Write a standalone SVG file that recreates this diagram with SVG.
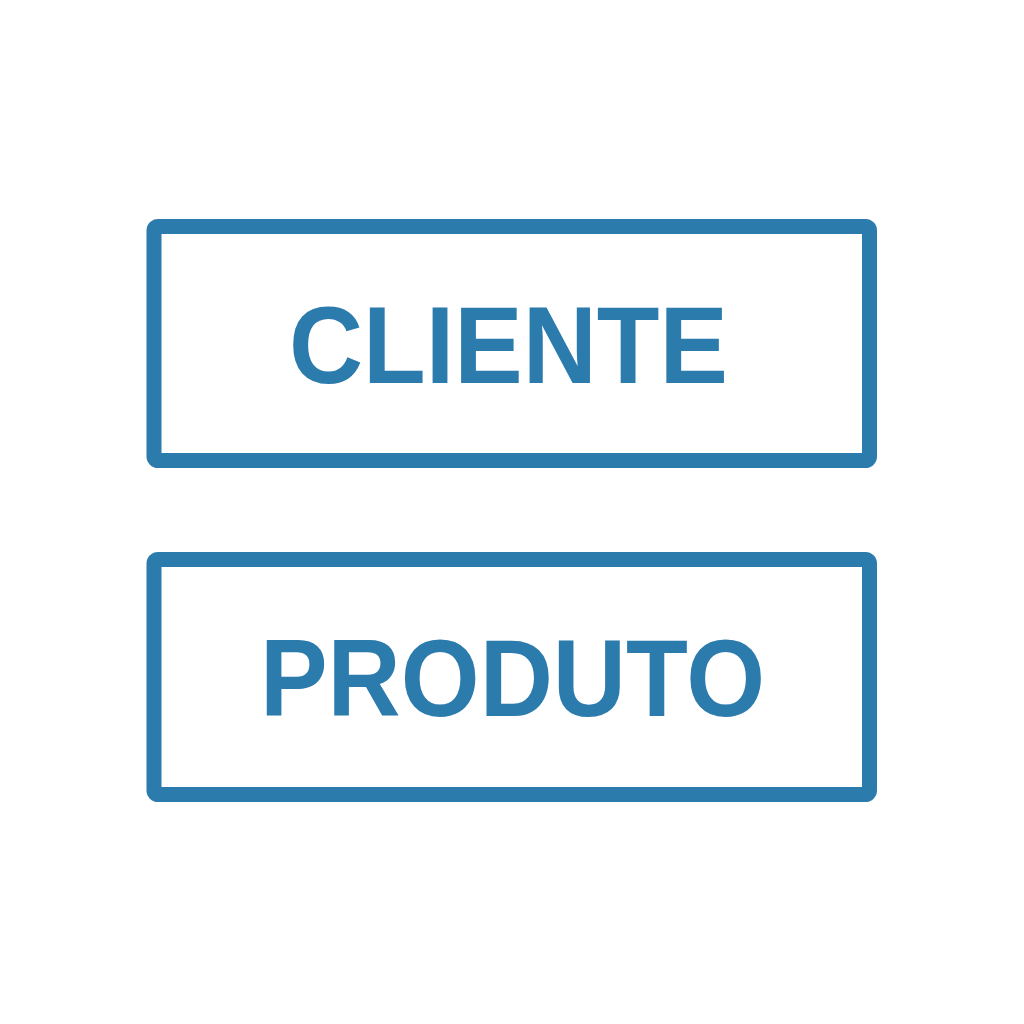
<svg xmlns="http://www.w3.org/2000/svg" width="1024" height="1024" viewBox="0 0 1024 1024">
<style>
.box{fill:none;stroke:#2b7bad;stroke-width:15;}
.lbl{fill:#2b7bad;font-family:"Liberation Sans",Arial,sans-serif;font-weight:bold;font-size:109px;text-anchor:middle;}
</style>
<rect width="1024" height="1024" fill="#fff"/>
<g id="cliente">
<rect class="box" x="154" y="226.5" width="715.5" height="234" rx="4"/>
<text class="lbl" x="508.5" y="383" textLength="439" lengthAdjust="spacingAndGlyphs">CLIENTE</text>
</g>
<g id="produto">
<rect class="box" x="154" y="559.5" width="715.5" height="235" rx="4"/>
<text class="lbl" x="512.5" y="716" textLength="505" lengthAdjust="spacingAndGlyphs">PRODUTO</text>
</g>
<g id="connectors"/>
</svg>
